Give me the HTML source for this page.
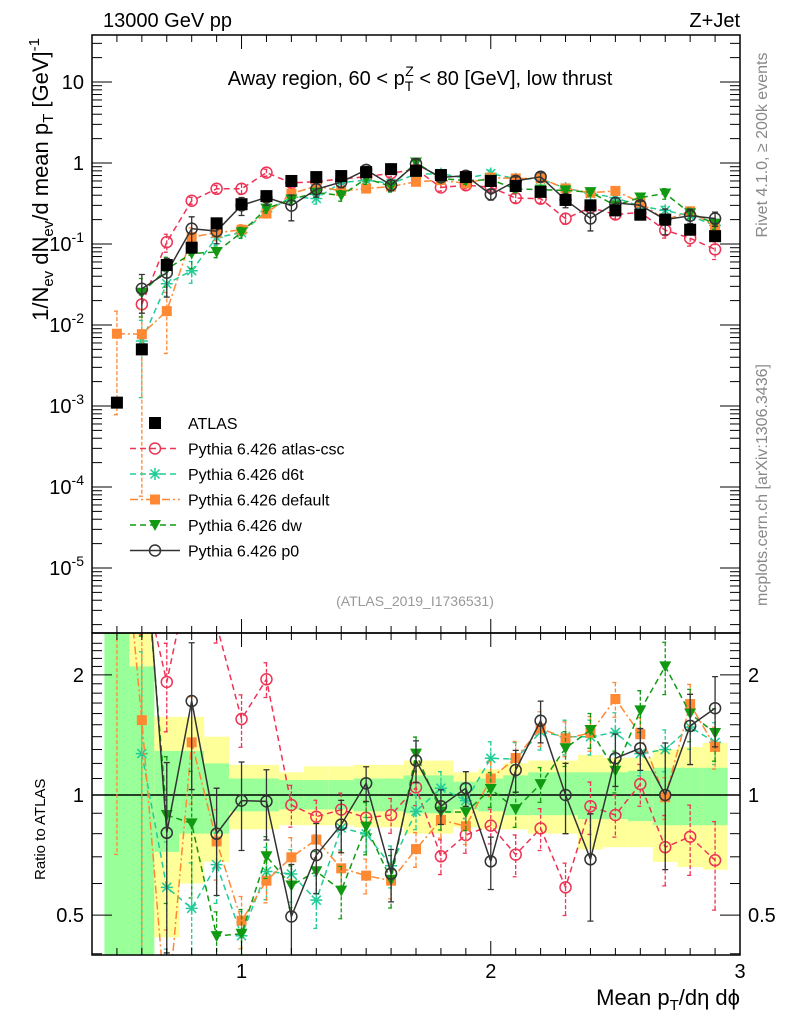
<!DOCTYPE html>
<html><head><meta charset="utf-8">
<style>
html,body{margin:0;padding:0;background:#fff;overflow:hidden;width:786px;height:1024px;}
svg{display:block;font-family:"Liberation Sans",sans-serif;}
</style></head>
<body>
<svg id="chart" width="786" height="1024" viewBox="0 0 786 1024" xmlns="http://www.w3.org/2000/svg">
<defs>
<clipPath id="clipMain"><rect x="92" y="35" width="648" height="598"/></clipPath>
<clipPath id="clipRatio"><rect x="92" y="633" width="648" height="322"/></clipPath>
</defs>
<g id="bands" clip-path="url(#clipRatio)"></g>
<g id="marksMain" clip-path="url(#clipMain)"></g>
<g id="marksRatio" clip-path="url(#clipRatio)"></g>
<g id="axes"></g>
<text x="103" y="27" font-size="20">13000 GeV pp</text>
<text x="740" y="27" font-size="20" text-anchor="end">Z+Jet</text>
<text x="420" y="85" font-size="20" text-anchor="middle">Away region, 60 &lt; p<tspan font-size="14" dy="6">T</tspan><tspan font-size="14" dx="-8" dy="-15">Z</tspan><tspan dy="9"> &lt; 80 [GeV], low thrust</tspan></text>
<text x="415" y="606" font-size="14" fill="#999" text-anchor="middle">(ATLAS_2019_I1736531)</text>
<text transform="translate(767,145) rotate(-90)" font-size="16" fill="#888" text-anchor="middle">Rivet 4.1.0, ≥ 200k events</text>
<text transform="translate(767,485) rotate(-90)" font-size="16" fill="#888" text-anchor="middle">mcplots.cern.ch [arXiv:1306.3436]</text>
<text transform="translate(48,38) rotate(-90)" font-size="22" text-anchor="end">1/N<tspan font-size="15" dy="5">ev</tspan><tspan dy="-5"> dN</tspan><tspan font-size="15" dy="5">ev</tspan><tspan dy="-5">/d mean p</tspan><tspan font-size="15" dy="5">T</tspan><tspan dy="-5"> [GeV]</tspan><tspan font-size="15" dy="-9">-1</tspan></text>
<text transform="translate(45,880) rotate(-90)" font-size="15">Ratio to ATLAS</text>
<text x="740" y="1005" font-size="22" text-anchor="end">Mean p<tspan font-size="15" dy="5">T</tspan><tspan dy="-5">/dη dϕ</tspan></text>
<g id="legend"></g>
</svg>
<script>
// ---- data ----
const binCenters = [0.5,0.6,0.7,0.8,0.9,1.0,1.1,1.2,1.3,1.4,1.5,1.6,1.7,1.8,1.9,2.0,2.1,2.2,2.3,2.4,2.5,2.6,2.7,2.8,2.9];
const atlasValues = [0.0011,0.005,0.055,0.09,0.18,0.31,0.39,0.6,0.67,0.69,0.77,0.84,0.8,0.71,0.67,0.6,0.52,0.44,0.35,0.3,0.26,0.23,0.2,0.15,0.125];
const atlasErr = [0.15,0.12,0.08,0.08,0.07,0.06,0.05,0.05,0.05,0.05,0.05,0.05,0.05,0.05,0.05,0.05,0.05,0.05,0.05,0.05,0.05,0.05,0.06,0.06,0.07];
const ratioCsc = [null,3.6,1.92,3.8,2.67,1.55,1.95,0.944,0.882,0.919,0.877,0.891,1.045,0.702,0.794,0.838,0.709,0.825,0.587,0.937,0.891,1.065,0.74,0.786,0.686];
const errCsc = [0,0.3,0.25,0.1,0.1,0.15,0.1,0.12,0.1,0.1,0.1,0.1,0.1,0.1,0.1,0.1,0.12,0.12,0.15,0.15,0.12,0.12,0.2,0.2,0.25];
const ratioD6t = [null,1.27,0.587,0.52,0.669,0.444,0.643,0.634,0.545,0.827,0.799,0.665,0.91,1.04,0.968,1.236,1.23,1.44,1.40,1.40,1.435,1.27,1.30,1.48,1.355];
const errD6t = [0,0.8,0.3,0.3,0.2,0.15,0.15,0.15,0.15,0.12,0.1,0.12,0.1,0.1,0.1,0.1,0.1,0.1,0.1,0.1,0.12,0.12,0.12,0.12,0.12];
const ratioDefault = [7.1,1.54,0.27,1.355,0.765,0.484,0.61,0.698,0.773,0.655,0.628,0.61,0.732,0.866,0.835,1.10,1.238,1.47,1.387,1.43,1.74,1.42,0.987,1.69,1.32];
const errDefault = [0.9,1.0,0.7,0.3,0.2,0.15,0.12,0.12,0.1,0.1,0.1,0.1,0.1,0.1,0.1,0.1,0.1,0.1,0.1,0.1,0.1,0.1,0.12,0.12,0.12];
const ratioDw = [null,5.0,0.891,0.849,0.443,0.449,0.702,0.593,0.644,0.576,0.833,0.613,1.27,0.908,0.905,1.035,0.922,1.065,1.31,1.455,1.15,1.63,2.1,1.6,1.43];
const errDw = [0,0.5,0.4,0.35,0.15,0.15,0.12,0.12,0.12,0.15,0.15,0.15,0.1,0.1,0.1,0.1,0.1,0.1,0.1,0.1,0.12,0.12,0.15,0.15,0.15];
const ratioP0 = [null,5.6,0.804,1.72,0.80,0.968,0.964,0.496,0.707,0.843,1.07,0.635,1.22,0.937,1.04,0.682,1.155,1.535,1.0,0.69,1.236,1.31,1.0,1.49,1.65];
const errP0 = [0,0.5,0.5,0.4,0.3,0.25,0.2,0.35,0.2,0.15,0.1,0.15,0.12,0.1,0.1,0.15,0.12,0.12,0.2,0.3,0.15,0.12,0.35,0.2,0.2];
const bandTotHi = [3,3,1.57,1.57,1.40,1.19,1.19,1.14,1.18,1.18,1.19,1.19,1.22,1.22,1.14,1.16,1.20,1.22,1.22,1.26,1.24,1.24,1.30,1.32,1.35];
const bandTotLo = [0.3,0.3,0.44,0.60,0.68,0.82,0.82,0.84,0.84,0.84,0.83,0.83,0.80,0.80,0.83,0.82,0.82,0.80,0.80,0.73,0.74,0.74,0.68,0.66,0.65];
const bandStatHi = [3,2.1,1.29,1.29,1.20,1.10,1.10,1.09,1.09,1.09,1.10,1.10,1.12,1.12,1.08,1.10,1.12,1.14,1.14,1.14,1.14,1.15,1.17,1.17,1.17];
const bandStatLo = [0.3,0.3,0.72,0.80,0.80,0.91,0.91,0.92,0.92,0.92,0.91,0.91,0.90,0.90,0.92,0.91,0.89,0.89,0.89,0.87,0.87,0.86,0.84,0.84,0.84];
const xTicks = ["1","2","3"];
const yTickExp = [1,0,-1,-2,-3,-4,-5];
const ratioTicks = ["0.5","1","2"];

// ---- axes functions ----
const NS = "http://www.w3.org/2000/svg";
const X0 = 92, X1 = 740;
const xMin = 0.4, xMax = 3.0;
function xs(v){ return X0 + (v - xMin) / (xMax - xMin) * (X1 - X0); }
function ys(v){ return 163 - 81 * Math.log10(v); }
function yr(v){ return 795 - 399 * Math.log10(v); }
function mk(tag, attrs, parent){
  const e = document.createElementNS(NS, tag);
  for (const k in attrs) e.setAttribute(k, attrs[k]);
  parent.appendChild(e); return e;
}
const bands = document.getElementById('bands');
const gm = document.getElementById('marksMain');
const gr = document.getElementById('marksRatio');
const ax = document.getElementById('axes');
const lg = document.getElementById('legend');

binCenters.forEach((c, i) => {
  const xa = xs(c - 0.05), xb = xs(c + 0.05);
  const r1 = mk('rect', {x: xa, y: yr(bandTotHi[i]), width: xb - xa, height: yr(bandTotLo[i]) - yr(bandTotHi[i]), fill: '#ffff99'}, bands);
  
  
  const r2 = mk('rect', {x: xa, y: yr(bandStatHi[i]), width: xb - xa, height: yr(bandStatLo[i]) - yr(bandStatHi[i]), fill: '#99ff99'}, bands);
  
  
});
const one = mk('line', {x1: X0, x2: X1, y1: yr(1), y2: yr(1), stroke: '#000', 'stroke-width': 1.5}, gr);



function marker(type, x, y, color, parent, name){
  let e;
  if (type === 'square') e = mk('rect', {x: x - 6, y: y - 6, width: 12, height: 12, fill: color}, parent);
  else if (type === 'fsquare') e = mk('rect', {x: x - 5, y: y - 5, width: 10, height: 10, fill: color}, parent);
  else if (type === 'circle') e = mk('circle', {cx: x, cy: y, r: 5.5, fill: 'none', stroke: color, 'stroke-width': 1.5}, parent);
  else if (type === 'tri') e = mk('polygon', {points: `${x-6},${y-5} ${x+6},${y-5} ${x},${y+6}`, fill: color}, parent);
  else if (type === 'star') {
    e = mk('path', {d: `M${x-6},${y}H${x+6}M${x},${y-6}V${y+6}M${x-4.5},${y-4.5}L${x+4.5},${y+4.5}M${x-4.5},${y+4.5}L${x+4.5},${y-4.5}`, stroke: color, 'stroke-width': 1.5, fill: 'none'}, parent);
  }
  
  
  return e;
}

const series = [
  {name: 'atlas-csc', label: 'Pythia 6.426 atlas-csc', ratio: ratioCsc, err: errCsc, color: '#ee3355', dash: '6,4', type: 'circle'},
  {name: 'd6t', label: 'Pythia 6.426 d6t', ratio: ratioD6t, err: errD6t, color: '#22cc99', dash: '6,4', type: 'star'},
  {name: 'default', label: 'Pythia 6.426 default', ratio: ratioDefault, err: errDefault, color: '#ff8833', dash: '8,3,2,3', type: 'fsquare'},
  {name: 'dw', label: 'Pythia 6.426 dw', ratio: ratioDw, err: errDw, color: '#119911', dash: '6,4', type: 'tri'},
  {name: 'p0', label: 'Pythia 6.426 p0', ratio: ratioP0, err: errP0, color: '#333333', dash: 'none', type: 'circle'}
];

series.forEach(s => {
  [['main', gm, i => ys(s.ratio[i] * atlasValues[i]), (i, f) => ys(s.ratio[i] * atlasValues[i] * f)],
   ['ratio', gr, i => yr(s.ratio[i]), (i, f) => yr(s.ratio[i] * f)]].forEach(([pn, g, yf, yef]) => {
    let d = '';
    binCenters.forEach((c, i) => {
      if (s.ratio[i] === null) return;
      d += (d ? 'L' : 'M') + xs(c) + ',' + yf(i);
    });
    const p = mk('path', {d: d, fill: 'none', stroke: s.color, 'stroke-width': 1.5, 'stroke-dasharray': s.dash}, g);
    
    
    binCenters.forEach((c, i) => {
      if (s.ratio[i] === null) return;
      const x = xs(c), yh = yef(i, 1 + s.err[i]), yl = yef(i, Math.max(0.01, 1 - s.err[i]));
      const eb = mk('path', {d: `M${x},${yh}V${yl}M${x-3},${yh}H${x+3}M${x-3},${yl}H${x+3}`, stroke: s.color, 'stroke-width': 1.3, fill: 'none', 'stroke-dasharray': s.dash === 'none' ? 'none' : '4,2'}, g);
      
      
      marker(s.type, x, yf(i), s.color, g, s.name + '-' + pn + '-point');
    });
  });
});
binCenters.forEach((c, i) => {
  const x = xs(c), y = ys(atlasValues[i]);
  const eb = mk('path', {d: `M${x},${ys(atlasValues[i]*(1+atlasErr[i]))}V${ys(atlasValues[i]*(1-atlasErr[i]))}`, stroke: '#000', 'stroke-width': 1.3}, gm);
  
  
  marker('square', x, y, '#000', gm, 'atlas-point');
});

[[35, 633], [633, 955]].forEach(([t, b], k) => {
  const r = mk('rect', {x: X0, y: t, width: X1 - X0, height: b - t, fill: 'none', stroke: '#000', 'stroke-width': 1.5}, ax);
  
  
});
for (let k = 5; k <= 29; k++) {
  const v = k / 10, x = xs(v), major = (k % 10 === 0);
  const L = major ? 14 : 7;
  [[35, 1], [633, -1], [633, 1], [955, -1]].forEach(([y0, dir]) => {
    const t = mk('line', {x1: x, x2: x, y1: y0, y2: y0 + dir * L, stroke: '#000', 'stroke-width': 1}, ax);
    
    
  });
}
xTicks.forEach(lbl => {
  const t = mk('text', {x: xs(+lbl), y: 978, 'font-size': 20, 'text-anchor': 'middle'}, ax);
  t.textContent = lbl;
  
  
});
for (let e = -6; e <= 1; e++) {
  for (let m = 1; m <= 9; m++) {
    const v = m * Math.pow(10, e), y = ys(v);
    if (y < 35 || y > 633) continue;
    const L = m === 1 ? 20 : 10;
    [[X0, 1], [X1, -1]].forEach(([x0, dir]) => {
      const t = mk('line', {x1: x0, x2: x0 + dir * L, y1: y, y2: y, stroke: '#000', 'stroke-width': 1}, ax);
      
      
    });
  }
}
yTickExp.forEach(e => {
  const y = ys(Math.pow(10, e)) + 7;
  const t = mk('text', {x: 84, y: y, 'font-size': 20, 'text-anchor': 'end'}, ax);
  if (e === 1) t.textContent = '10';
  else if (e === 0) t.textContent = '1';
  else {
    t.textContent = '10';
    const s = mk('tspan', {'font-size': 14, dy: -9}, t);
    s.textContent = String(e);
  }
  
  
});
[0.4,0.5,0.6,0.7,0.8,0.9,1,2].forEach(v => {
  const y = yr(v), major = (v === 0.5 || v === 1 || v === 2);
  const L = major ? 20 : 10;
  [[X0, 1], [X1, -1]].forEach(([x0, dir]) => {
    const t = mk('line', {x1: x0, x2: x0 + dir * L, y1: y, y2: y, stroke: '#000', 'stroke-width': 1}, ax);
    
    
  });
});
for (let v = 1.1; v < 2.5; v += 0.1) {
  if (Math.abs(v - 2) < 0.01) continue;
  const y = yr(v);
  [[X0, 1], [X1, -1]].forEach(([x0, dir]) => {
    const t = mk('line', {x1: x0, x2: x0 + dir * 10, y1: y, y2: y, stroke: '#000', 'stroke-width': 1}, ax);
    
    
  });
}
ratioTicks.forEach(lbl => {
  const y = yr(+lbl) + 7;
  const t1 = mk('text', {x: 84, y: y, 'font-size': 20, 'text-anchor': 'end'}, ax);
  t1.textContent = lbl;
  
  
  const t2 = mk('text', {x: 748, y: y, 'font-size': 20}, ax);
  t2.textContent = lbl;
  
  
});

const lgY0 = 423, lgDy = 25.5;
marker('square', 155, lgY0, '#000', lg, 'legend-marker-atlas');
const at = mk('text', {x: 188, y: lgY0 + 6, 'font-size': 16}, lg);
at.textContent = 'ATLAS';


series.forEach((s, k) => {
  const y = lgY0 + (k + 1) * lgDy;
  const l = mk('line', {x1: 130, x2: 180, y1: y, y2: y, stroke: s.color, 'stroke-width': 1.5, 'stroke-dasharray': s.dash}, lg);
  
  
  marker(s.type, 155, y, s.color, lg, 'legend-marker-' + s.name);
  const t = mk('text', {x: 188, y: y + 6, 'font-size': 16}, lg);
  t.textContent = s.label;
  
  
});
</script>
</body></html>
